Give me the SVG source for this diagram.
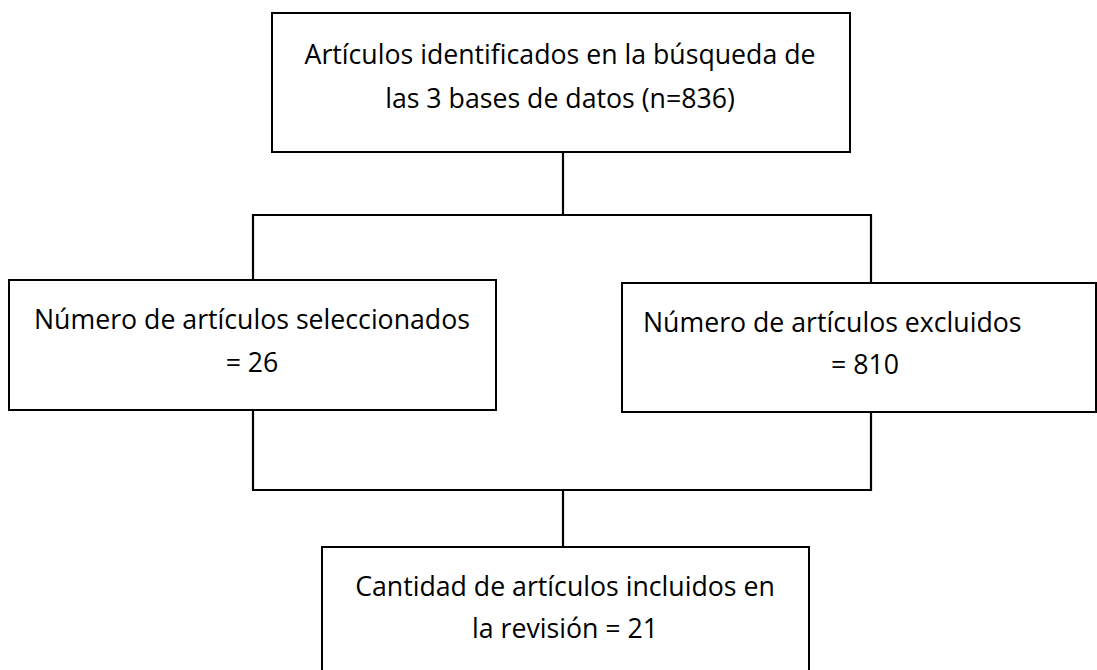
<svg xmlns="http://www.w3.org/2000/svg" width="1097" height="670" viewBox="0 0 1097 670">
<style>
.box{fill:#fff;stroke:#000;stroke-width:2}
.ln{fill:none;stroke:#000;stroke-width:2.2}
text{font-family:"Open Sans","Noto Sans",sans-serif;font-size:26.7px;fill:#000}
.c{text-anchor:middle}
</style>
<rect width="1097" height="670" fill="#fff"/>
<g id="connectors">
<path class="ln" d="M563 152V215M253 280V215H871V283"/>
<path class="ln" d="M253 410V490H871V412M563 490V547"/>
</g>
<g id="n1">
<rect class="box" x="272" y="13" width="578" height="139"/>
<text class="c" x="560" y="64">Artículos identificados en la búsqueda de</text>
<text class="c" x="560" y="108">las 3 bases de datos (n=836)</text>
</g>
<g id="n2">
<rect class="box" x="9" y="280" width="487" height="130"/>
<text class="c" x="252" y="329">Número de artículos seleccionados</text>
<text class="c" x="252" y="372">= 26</text>
</g>
<g id="n3">
<rect class="box" x="622" y="283" width="474" height="129"/>
<text x="643" y="332">Número de artículos excluidos</text>
<text class="c" x="865" y="374">= 810</text>
</g>
<g id="n4">
<rect class="box" x="322" y="547" width="487" height="140"/>
<text class="c" x="565" y="596">Cantidad de artículos incluidos en</text>
<text class="c" x="565" y="638">la revisión = 21</text>
</g>
</svg>
